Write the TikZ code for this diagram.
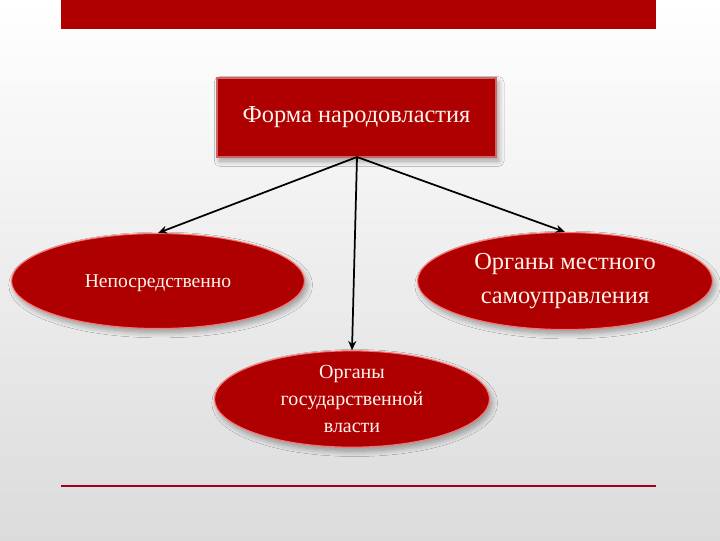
\documentclass[tikz,border=0pt]{standalone}
\usepackage{fontspec}
\setmainfont{Liberation Serif}
\usetikzlibrary{shapes.geometric,arrows.meta,shadows.blur}
\definecolor{mred}{HTML}{AE0000}
\definecolor{lred}{HTML}{A0001E}
\definecolor{txt}{HTML}{FFF4EC}
\tikzset{
  redbox/.style={rectangle, fill=mred, draw=mred!60!white, line width=0.8pt, text=txt,
    blur shadow={shadow xshift=2pt, shadow yshift=-3pt, shadow blur steps=8, shadow blur radius=4pt, shadow opacity=35}},
  redell/.style={ellipse, fill=mred, draw=red!55!white, line width=0.8pt, text=txt, align=center,
    inner sep=0pt, blur shadow={shadow xshift=2pt, shadow yshift=-3pt, shadow blur steps=8, shadow blur radius=4pt, shadow opacity=35}},
  conn/.style={draw=black, line width=1.3pt, -{Stealth[length=7pt,width=6pt]}}
}
\begin{document}
\begin{tikzpicture}[x=0.75pt,y=-0.75pt]
\shade[top color=white, bottom color=black!14] (0,0) rectangle (720,540);
\useasboundingbox (0,0) rectangle (720,540);
\node[fill=mred, minimum width=595*0.75pt, minimum height=29*0.75pt, inner sep=0pt, anchor=north west] (bar) at (61,0) {};
\node[fill=lred, minimum width=595*0.75pt, minimum height=2.2pt, inner sep=0pt] (line) at (358.5,486) {};
\node[redbox, minimum width=279*0.75pt, minimum height=79*0.75pt, font=\fontsize{18.3}{21}\selectfont] (top) at (356.5,117.5) {Форма народовластия};
\node[redell, minimum width=293*0.75pt, minimum height=95*0.75pt, font=\fontsize{14.7}{17}\selectfont] (left) at (158,281) {};
\node[text=txt, font=\fontsize{14.7}{17}\selectfont] (lefttext) at (158,283) {Непосредственно};
\node[redell, minimum width=295*0.75pt, minimum height=97*0.75pt, font=\fontsize{18.3}{25.5}\selectfont] (right) at (565,281) {Органы местного\\самоуправления};
\node[redell, minimum width=275*0.75pt, minimum height=87*0.75pt, font=\fontsize{15}{20.5}\selectfont] (bottom) at (352,399) {Органы\\государственной\\власти};
\coordinate (src) at (357,157);
\draw[conn] (src) -- (left.north);
\draw[conn] (src) -- (right.north);
\draw[conn] (src) -- (bottom.north);
\end{tikzpicture}
\end{document}
